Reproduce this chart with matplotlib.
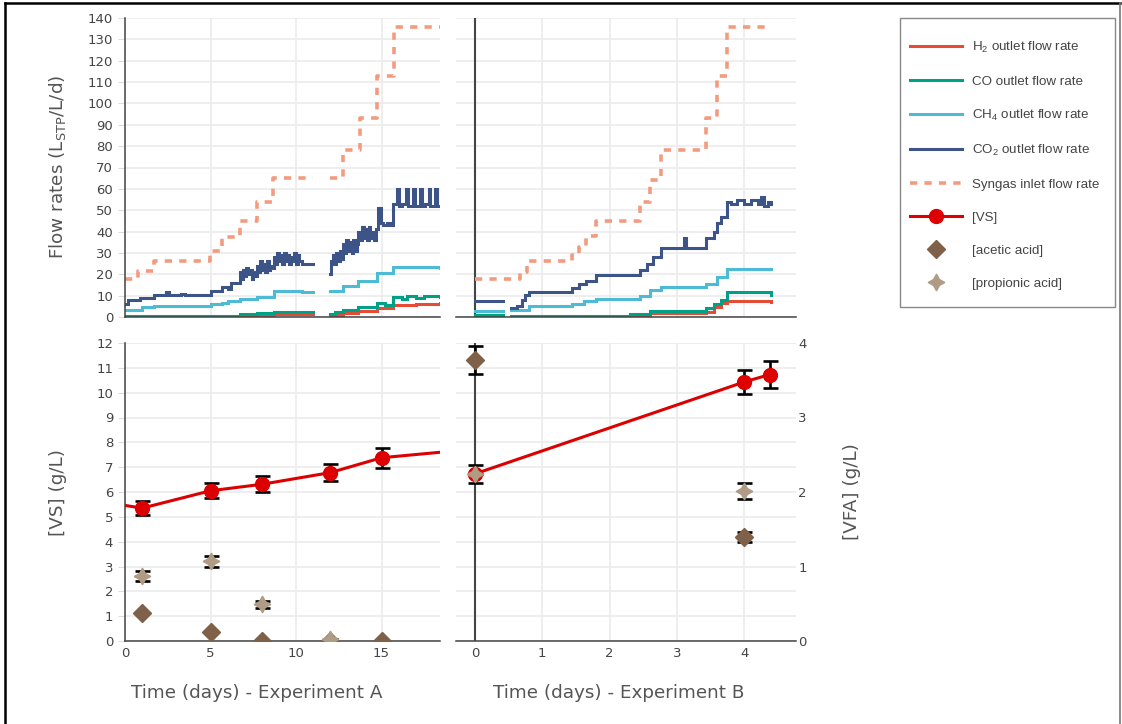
import numpy as np
import matplotlib
matplotlib.use("Agg")
import matplotlib.pyplot as plt
from matplotlib.lines import Line2D
from matplotlib.patches import Rectangle

nan = np.nan

# ---------------- Experiment A : flow rates (L_STP/L/d) ----------------
synA_t = [0, 0.74, 1.72, 4.96, 5.65, 6.72, 7.69, 8.67, 10.35, 11.0, 11.97, 12.75, 13.72, 14.74, 15.71, 18.42]
synA_v = [18, 21.5, 26, 31, 37.5, 45, 54, 65, 65, nan, 65, 78, 93, 113, 135.6, 135.6]

co2A_t = [0, 0.2, 0.9, 1.7, 2.4, 2.6, 3.3, 3.5, 5.0, 5.7, 6.0, 6.2,
          6.7, 6.8, 6.9, 7.0, 7.1, 7.2, 7.3, 7.4, 7.5, 7.6,
          7.7, 7.8, 7.9, 8.0, 8.1, 8.2, 8.3, 8.4, 8.5, 8.6,
          8.7, 8.8, 8.9, 9.0, 9.1, 9.2, 9.3, 9.4, 9.5, 9.6, 9.7, 9.8, 9.9, 10.0, 10.1, 10.2, 10.35, 11.0,
          11.97, 12.05, 12.15, 12.25, 12.35, 12.45, 12.55, 12.65,
          12.75, 12.85, 12.95, 13.05, 13.15, 13.25, 13.35, 13.45, 13.55,
          13.65, 13.75, 13.85, 13.95, 14.05, 14.15, 14.25, 14.35, 14.45, 14.55, 14.65,
          14.8, 14.95, 15.1, 15.3, 15.5,
          15.7, 15.9, 16.0, 16.2, 16.45, 16.55, 16.85, 16.95, 17.25, 17.35, 17.55, 17.75, 17.85, 18.15, 18.25, 18.42]
co2A_v = [6, 8, 9, 10.5, 11.5, 10.5, 11, 10.5, 12, 14, 13, 16,
          21, 18, 22, 19, 23, 20, 22, 18, 21, 19,
          24, 21, 26, 22, 25, 21, 26, 22, 24, 23,
          28, 25, 30, 26, 29, 25, 30, 26, 29, 25, 28, 26, 30, 25, 29, 26, 25, nan,
          20, 26, 29, 25, 30, 26, 31, 27,
          34, 30, 36, 31, 35, 30, 36, 31, 34,
          40, 36, 42, 37, 41, 36, 42, 37, 40, 36, 41,
          51, 44, 43, 44, 43,
          53, 60, 52, 53, 60, 52, 60, 52, 60, 52, 53, 60, 52, 60, 52, 52]

ch4A_t = [0, 1.0, 1.7, 5.0, 5.7, 6.0, 6.7, 7.7, 8.7, 10.35, 11.0, 11.97, 12.75, 13.65, 14.75, 15.7, 18.42]
ch4A_v = [3.5, 4.5, 5, 6, 6.5, 7.5, 8.5, 9.5, 12, 11.5, nan, 12, 14.5, 17, 20.5, 23.5, 23]

coA_t = [0, 5.0, 6.7, 7.7, 8.7, 10.35, 11.0, 11.97, 12.3, 12.75, 13.65, 14.75, 15.2, 15.7, 16.2, 16.5, 17.0, 17.5, 18.42]
coA_v = [0.3, 0.5, 1.2, 1.8, 2.5, 2.3, nan, 1.5, 2.5, 3.5, 4.5, 6.5, 5.5, 9.5, 8.5, 10, 9, 10, 9.5]

h2A_t = [0, 6.7, 7.7, 8.7, 10.35, 11.0, 11.97, 12.75, 13.65, 14.75, 15.7, 17.0, 18.42]
h2A_v = [0, 0.3, 0.8, 1.5, 1.5, nan, 0.8, 1.8, 2.8, 4, 5.5, 6, 6.5]

# ---------------- Experiment B : flow rates (L_STP/L/d) ----------------
synB_t = [0, 0.67, 0.77, 1.45, 1.55, 1.65, 1.8, 2.45, 2.6, 2.77, 3.43, 3.6, 3.75, 4.4]
synB_v = [18, 21, 26, 29, 33, 38, 45, 54, 64, 78, 93, 113, 135.6, 135.6]

co2B_t = [0, 0.42, 0.54, 0.62, 0.7, 0.75, 0.8, 1.45, 1.55, 1.65, 1.8, 2.45, 2.55, 2.65, 2.77,
          3.1, 3.13, 3.43, 3.55, 3.6, 3.65, 3.75, 3.8, 3.9, 4.0, 4.1, 4.2, 4.25, 4.3, 4.35, 4.4]
co2B_v = [7.5, nan, 4, 5, 8, 10.5, 11.5, 13.5, 15.5, 17, 19.5, 22, 25, 28, 32.5,
          37, 32.5, 37, 40, 44, 47, 54, 53, 55, 53, 55, 53, 56, 52, 54, 53]

ch4B_t = [0, 0.42, 0.54, 0.8, 1.45, 1.62, 1.8, 2.45, 2.6, 2.77, 3.43, 3.6, 3.75, 4.4]
ch4B_v = [3, nan, 3.5, 5, 6, 7.5, 8.5, 10, 12.5, 14, 15.5, 18.5, 22.5, 22.5]

coB_t = [0, 0.42, 0.54, 2.0, 2.3, 2.6, 3.43, 3.55, 3.65, 3.75, 4.4]
coB_v = [1, nan, 0.3, 0.5, 1.5, 3, 4, 6, 8, 11.5, 10.5]

h2B_t = [0, 0.42, 0.54, 2.3, 2.6, 3.43, 3.55, 3.65, 3.75, 4.4]
h2B_v = [0, nan, 0, 0.5, 1.8, 2.5, 4.5, 6.5, 7.5, 7.2]

# ---------------- [VS] (g/L) ----------------
vsA_line_t = [0, 1, 5, 8, 12, 15, 18.42]
vsA_line_v = [5.46, 5.35, 6.05, 6.31, 6.78, 7.38, 7.6]
vsA_t = [1, 5, 8, 12, 15]
vsA_v = [5.35, 6.05, 6.31, 6.78, 7.38]
vsA_err = [0.27, 0.3, 0.33, 0.35, 0.4]

vsB_t = [0, 4, 4.38]
vsB_v = [6.73, 10.43, 10.73]
vsB_err = [0.37, 0.5, 0.55]

# ---------------- [VFA] (g/L) ----------------
acidA_t = [1, 5, 8, 12, 15]
aceA_v = [0.38, 0.12, 0.0, 0.0, 0.0]
aceA_err = [0.0, 0.0, 0.0, 0.0, 0.0]
proA_v = [0.87, 1.07, 0.49, 0.03, nan]
proA_err = [0.067, 0.07, 0.045, 0.0, 0.0]

acidB_t = [0, 4]
aceB_v = [3.77, 1.40]
aceB_err = [0.19, 0.067]
proB_v = [2.24, 2.01]
proB_err = [0.0, 0.107]

# ---------------- style ----------------
C_H2 = "#E64B35"
C_CO = "#00A087"
C_CH4 = "#4DBBD5"
C_CO2 = "#3C5488"
C_SYN = "#F39B7F"
C_VS = "#DC0000"
C_ACE = "#7E6148"
C_PRO = "#B09C85"
GRID = "#ebebeb"
AX = "#444444"
TXT = "#555555"

plt.rcParams["font.family"] = ["DejaVu Sans"]
plt.rcParams["mathtext.default"] = "regular"

W, H = 1122, 724
fig = plt.figure(figsize=(W / 100, H / 100), dpi=100)


def rect(x0, x1, y0, y1):
    return [x0 / W, 1 - y1 / H, (x1 - x0) / W, (y1 - y0) / H]


axTL = fig.add_axes(rect(125, 440, 18, 317))
axTR = fig.add_axes(rect(456, 796, 18, 317))
axBL = fig.add_axes(rect(125, 440, 343, 641))
axBR = fig.add_axes(rect(456, 796, 343, 641))

star4 = (4, 1, 0)
LW = 2.2
TICK = 9.5

for ax in (axTL, axTR, axBL, axBR):
    for s in ("top", "right"):
        ax.spines[s].set_visible(False)
    ax.spines["bottom"].set_color(AX)
    ax.spines["bottom"].set_linewidth(1.1)
    ax.spines["left"].set_color(AX)
    ax.spines["left"].set_linewidth(1.1)
    ax.grid(True, color=GRID, linewidth=1.2)
    ax.set_axisbelow(True)
    ax.tick_params(axis="both", colors=AX, labelcolor=AX, labelsize=TICK)
    ax.tick_params(axis="x", length=0, pad=4)
    ax.tick_params(axis="y", length=5, color="#dddddd", pad=3.5)

for ax in (axTR, axBR):
    ax.spines["left"].set_visible(False)
    ax.tick_params(axis="y", length=0, labelleft=False)
    ax.axvline(0, color=AX, linewidth=1.5, zorder=1.5)


# ---- top flows ----
def flows(ax, data):
    for t, v, c, ls in data:
        ax.plot(t, v, color=c, linewidth=LW if ls == "-" else 2.6,
                linestyle=ls if ls == "-" else (0, (2, 2)), drawstyle="steps-post",
                solid_joinstyle="miter")


flows(axTL, [(h2A_t, h2A_v, C_H2, "-"), (coA_t, coA_v, C_CO, "-"), (ch4A_t, ch4A_v, C_CH4, "-"),
             (co2A_t, co2A_v, C_CO2, "-"), (synA_t, synA_v, C_SYN, ":")])
flows(axTR, [(h2B_t, h2B_v, C_H2, "-"), (coB_t, coB_v, C_CO, "-"), (ch4B_t, ch4B_v, C_CH4, "-"),
             (co2B_t, co2B_v, C_CO2, "-"), (synB_t, synB_v, C_SYN, ":")])

for ax in (axTL, axTR):
    ax.set_ylim(0, 140)
    ax.set_yticks(np.arange(0, 141, 10))
    ax.tick_params(axis="x", labelbottom=False)
axTL.set_xlim(0, 18.42)
axTL.set_xticks([0, 5, 10, 15])
axTR.set_xlim(-0.28, 4.77)
axTR.set_xticks([0, 1, 2, 3, 4])

# ---- bottom VS ----
ekw = dict(ecolor="black", elinewidth=1.9, capsize=5.4, capthick=1.9, linestyle="none")
axBL.plot(vsA_line_t, vsA_line_v, color=C_VS, linewidth=LW, zorder=3)
axBL.errorbar(vsA_t, vsA_v, yerr=vsA_err, marker="o", markersize=10, color=C_VS,
              zorder=4, **ekw)
axBR.plot(vsB_t, vsB_v, color=C_VS, linewidth=LW, zorder=3)
axBR.errorbar(vsB_t, vsB_v, yerr=vsB_err, marker="o", markersize=10, color=C_VS,
              zorder=4, clip_on=False, **ekw)

for ax in (axBL, axBR):
    ax.set_ylim(0, 12)
    ax.set_yticks(np.arange(0, 13, 1))
axBL.set_xlim(0, 18.42)
axBL.set_xticks([0, 5, 10, 15])
axBR.set_xlim(-0.28, 4.77)
axBR.set_xticks([0, 1, 2, 3, 4])

# ---- VFA on secondary axes ----
twBL = axBL.twinx()
twBR = axBR.twinx()
for tw in (twBL, twBR):
    tw.set_ylim(0, 4)
    for s in tw.spines.values():
        s.set_visible(False)
twBL.set_yticks([])
twBR.set_yticks([0, 1, 2, 3, 4])
twBR.tick_params(axis="y", length=0, pad=1.5, labelsize=TICK, labelcolor=AX)

twBL.errorbar(acidA_t, aceA_v, yerr=aceA_err, marker="D", markersize=8.7, color=C_ACE, **ekw)
twBL.errorbar(acidA_t, proA_v, yerr=proA_err, marker=star4, markersize=12, color=C_PRO, **ekw)
twBR.errorbar(acidB_t, aceB_v, yerr=aceB_err, marker="D", markersize=8.7, color=C_ACE,
              clip_on=False, **ekw)
twBR.errorbar(acidB_t, proB_v, yerr=proB_err, marker=star4, markersize=12, color=C_PRO, **ekw)

# ---- axis titles ----
TS = 13.2
fig.text(58 / W, 1 - 167 / H, "Flow rates (L$_{STP}$/L/d)", rotation=90, ha="center",
         va="center", fontsize=TS, color=TXT)
fig.text(58 / W, 1 - 492 / H, "[VS] (g/L)", rotation=90, ha="center", va="center",
         fontsize=TS, color=TXT)
fig.text(852 / W, 1 - 492 / H, "[VFA] (g/L)", rotation=90, ha="center", va="center",
         fontsize=TS, color=TXT)
fig.text(257 / W, 1 - 693 / H, "Time (days) - Experiment A", ha="center", va="center",
         fontsize=TS, color=TXT)
fig.text(619 / W, 1 - 693 / H, "Time (days) - Experiment B", ha="center", va="center",
         fontsize=TS, color=TXT)

# ---- legend ----
handles = [
    Line2D([], [], color=C_H2, linewidth=LW),
    Line2D([], [], color=C_CO, linewidth=LW),
    Line2D([], [], color=C_CH4, linewidth=LW),
    Line2D([], [], color=C_CO2, linewidth=LW),
    Line2D([], [], color=C_SYN, linewidth=2.6, linestyle=(0, (2, 2))),
    Line2D([], [], color=C_VS, linewidth=LW, marker="o", markersize=10),
    Line2D([], [], color=C_ACE, linestyle="none", marker="D", markersize=8.7),
    Line2D([], [], color=C_PRO, linestyle="none", marker=star4, markersize=12),
]
labels = ["H$_2$ outlet flow rate", "CO outlet flow rate", "CH$_4$ outlet flow rate",
          "CO$_2$ outlet flow rate", "Syngas inlet flow rate", "[VS]", "[acetic acid]",
          "[propionic acid]"]
LFS = 9.6
leg = fig.legend(handles, labels, loc="upper left",
                 bbox_to_anchor=(910 / W, 1 - 40 / H),
                 prop={"family": ["Liberation Sans", "DejaVu Sans"], "size": LFS},
                 frameon=False, borderpad=0, handlelength=52 / (LFS * 100 / 72),
                 handleheight=0.9, labelspacing=1.485, handletextpad=10 / (LFS * 100 / 72),
                 borderaxespad=0, labelcolor="#444444")
fig.add_artist(Rectangle((900 / W, 1 - 307 / H), 215 / W, 289 / H, transform=fig.transFigure,
                         fill=False, edgecolor="#888888", linewidth=1.0))

# ---- outer frame ----
fig.add_artist(Line2D([4.5 / W, 4.5 / W], [0, 1 - 3 / H], color="black", linewidth=1.8))
fig.add_artist(Line2D([4.5 / W, 1120 / W], [1 - 3 / H, 1 - 3 / H], color="black", linewidth=1.8))
fig.add_artist(Line2D([1120 / W, 1120 / W], [0, 1 - 3 / H], color="#777777", linewidth=1.2))

fig.savefig("out.png", dpi=100)
